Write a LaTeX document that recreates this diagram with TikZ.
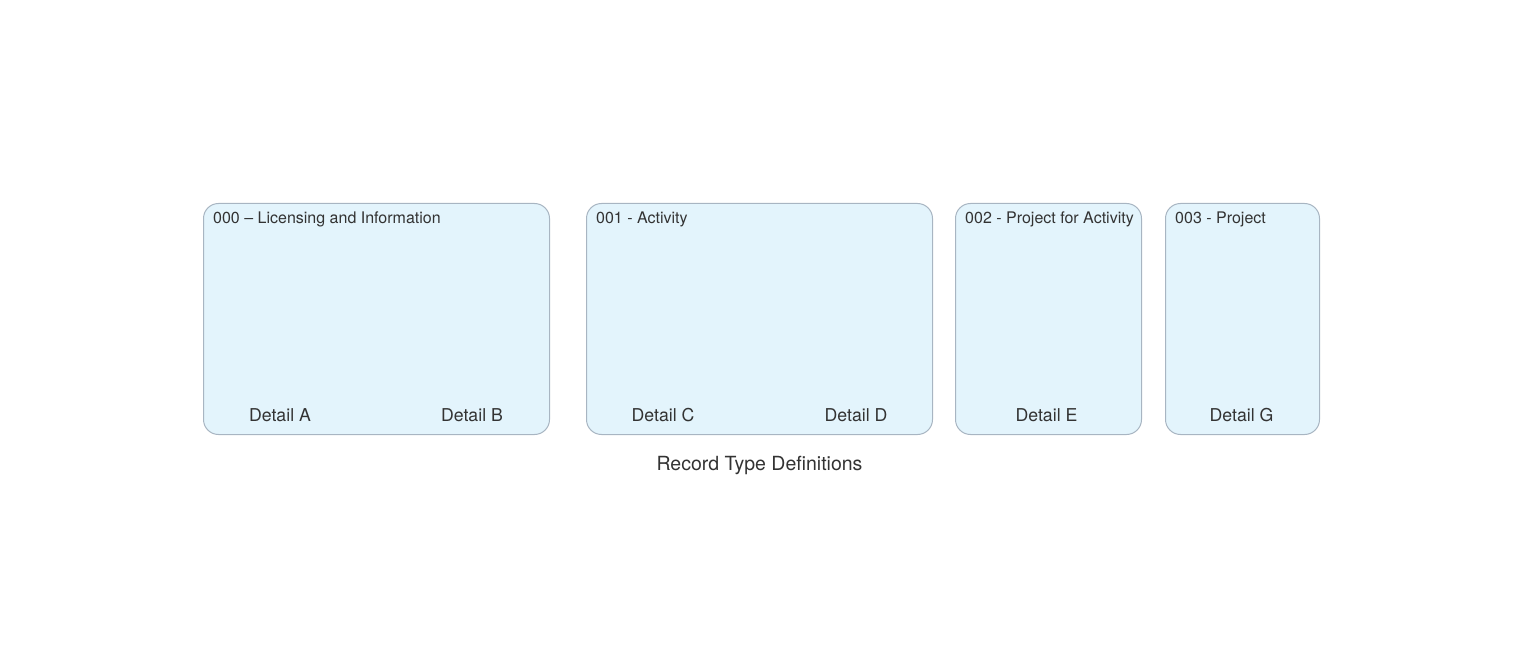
\documentclass[tikz,border=0pt]{standalone}
\usepackage{fontspec}
\setmainfont{TeX Gyre Heros}
\usetikzlibrary{positioning}
\definecolor{boxfill}{HTML}{E3F4FC}
\definecolor{boxline}{HTML}{A8B5C2}
\definecolor{textgray}{HTML}{333333}

\begin{document}
\begin{tikzpicture}[x=1pt,y=-1pt,node distance=36pt,
  rtbox/.style={draw=boxline,fill=boxfill,rounded corners=15pt,minimum height=231pt,inner sep=0pt,line width=1pt},
  rttitle/.style={font=\fontsize{16}{19}\selectfont,text=textgray,anchor=base west,inner sep=0pt},
  rtdetail/.style={font=\fontsize{17.7}{21}\selectfont,text=textgray,anchor=base,inner sep=0pt}]
\useasboundingbox (0,0) rectangle (1523,668);
\node[rtbox,minimum width=346pt,anchor=north west] (R0) at (203,203) {};
\node[rtbox,minimum width=346pt] (R1) [right=36pt of R0] {};
\node[rtbox,minimum width=186pt] (R2) [right=22pt of R1] {};
\node[rtbox,minimum width=154pt] (R3) [right=23pt of R2] {};

\node[rttitle,xshift=10pt,yshift=-21pt] (T0) at (R0.north west) {000 -- Licensing and Information};
\node[rttitle,xshift=10pt,yshift=-21pt] (T1) at (R1.north west) {001 - Activity};
\node[rttitle,xshift=10pt,yshift=-21pt] (T2) at (R2.north west) {002 - Project for Activity};
\node[rttitle,xshift=10pt,yshift=-21pt] (T3) at (R3.north west) {003 - Project};

\node[rtdetail,xshift=77pt,yshift=13.5pt] (DA) at (R0.south west) {Detail A};
\node[rtdetail,xshift=-78pt,yshift=13.5pt] (DB) at (R0.south east) {Detail B};
\node[rtdetail,xshift=77pt,yshift=13.5pt] (DC) at (R1.south west) {Detail C};
\node[rtdetail,xshift=-77pt,yshift=13.5pt] (DD) at (R1.south east) {Detail D};
\node[rtdetail,xshift=-2pt,yshift=13.5pt] (DE) at (R2.south) {Detail E};
\node[rtdetail,xshift=-1pt,yshift=13.5pt] (DG) at (R3.south) {Detail G};

\node[font=\fontsize{19.5}{23}\selectfont,text=textgray,anchor=base,inner sep=0pt,yshift=-35pt] (cap) at (R1.south) {Record Type Definitions};
\end{tikzpicture}
\end{document}
